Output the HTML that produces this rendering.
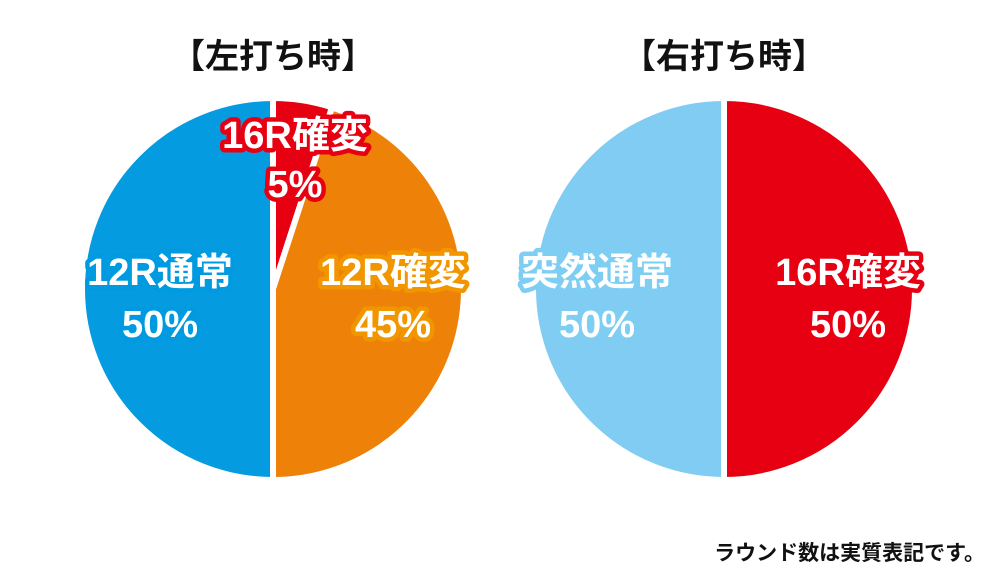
<!DOCTYPE html>
<html><head><meta charset="utf-8"><style>
html,body{margin:0;padding:0;background:#fff;width:1000px;height:577px;overflow:hidden}
svg text{font-family:"Liberation Sans","Noto Sans CJK JP",sans-serif;font-weight:bold}
.lbl{fill:#fff;font-size:38px;text-anchor:middle;paint-order:stroke;stroke-linejoin:round;stroke-width:9px}
</style></head><body>
<svg id="chart" width="1000" height="577" viewBox="0 0 1000 577">
<text x="273" y="68" font-size="34" text-anchor="middle" fill="#111">【左打ち時】</text>
<text x="724" y="68" font-size="34" text-anchor="middle" fill="#111">【右打ち時】</text>
<g id="left"></g>
<g id="right"></g>
<text class="lbl" stroke="#009ae0" x="160" y="285">12R通常</text>
<text class="lbl" stroke="#009ae0" x="160" y="337">50%</text>
<text class="lbl" stroke="#e60012" x="295" y="148">16R確変</text>
<text class="lbl" stroke="#e60012" x="295" y="197">5%</text>
<text class="lbl" stroke="#f29600" x="393" y="285">12R確変</text>
<text class="lbl" stroke="#f29600" x="393" y="337">45%</text>
<text class="lbl" stroke="#7ecef4" x="597" y="285">突然通常</text>
<text class="lbl" stroke="#7ecef4" x="597" y="337">50%</text>
<text class="lbl" stroke="#e60012" x="848" y="285">16R確変</text>
<text class="lbl" stroke="#e60012" x="848" y="337">50%</text>
<text x="985" y="560" font-size="21" text-anchor="end" fill="#111">ラウンド数は実質表記です。</text>
</svg>
<script>
const leftCategories=["16R確変","12R確変","12R通常"];
const leftValues=[5,45,50];
const leftColors=["#e60012","#ee8208","#059be0"];
const rightCategories=["16R確変","突然通常"];
const rightValues=[50,50];
const rightColors=["#e60012","#80ccf2"];
function drawPie(gid,cx,cy,r,vals,cols,cats){
  const g=document.getElementById(gid);
  const tot=vals.reduce((a,b)=>a+b,0);
  let a=0;
  vals.forEach((v,i)=>{
    const a0=a/tot*2*Math.PI, a1=(a+v)/tot*2*Math.PI; a+=v;
    const x0=cx+r*Math.sin(a0),y0=cy-r*Math.cos(a0),x1=cx+r*Math.sin(a1),y1=cy-r*Math.cos(a1);
    const large=(a1-a0)>Math.PI?1:0;
    const p=document.createElementNS("http://www.w3.org/2000/svg","path");
    
    
    p.setAttribute("d",`M${cx},${cy}L${x0},${y0}A${r},${r} 0 ${large} 1 ${x1},${y1}Z`);
    p.setAttribute("fill",cols[i]);p.setAttribute("stroke","#fff");p.setAttribute("stroke-width","6");p.setAttribute("stroke-linejoin","round");
    g.appendChild(p);
  });
}
drawPie("left",273,289,191,leftValues,leftColors,leftCategories);
drawPie("right",724,289,191,rightValues,rightColors,rightCategories);
</script>
</body></html>
